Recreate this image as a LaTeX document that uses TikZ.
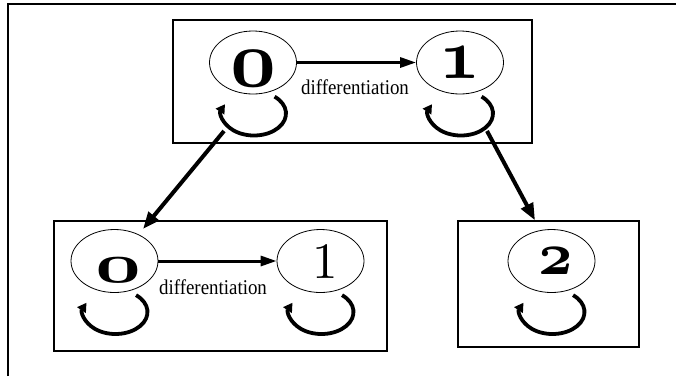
\documentclass[tikz,border=0pt]{standalone}
\usepackage{fontspec}
\newfontfamily\labelfont{Liberation Serif}
\usetikzlibrary{arrows.meta,shapes.geometric}
% digit placed with its ink centre shifted by (#1/2 right, #2 down)
\newcommand{\dg}[3]{\makebox[0pt]{\hspace*{#1}\raisebox{\dimexpr -#2 - .5\height\relax}[0pt][0pt]{#3}}}
\newcommand{\osf}[3]{\scalebox{#1}[#2]{\fontsize{10}{10}\usefont{OML}{cmm}{b}{it}#3}}
\tikzset{
  state/.style={ellipse, draw, line width=0.8pt, inner sep=0pt, minimum width=87pt, minimum height=63pt},
  cluster/.style={draw, line width=1.3pt, inner sep=0pt},
  trans/.style={line width=3pt, -{Triangle[length=16pt,width=10pt]}},
  jump/.style={line width=4pt, -{Triangle[length=17pt,width=13pt]}},
  selfloop/.style={line width=3.8pt, -{Triangle[length=9pt,width=10pt]}},
  lbl/.style={font=\labelfont\fontsize{21}{21}\selectfont, inner sep=0pt},
  frame/.style={line width=2pt, line join=miter}
}
\begin{document}
\begin{tikzpicture}[x=1pt, y=-1pt]
\useasboundingbox (0,0) rectangle (676,376);
\draw[frame] (8.3,376) -- (8.3,4.3) -- (676,4.3);
% clusters
\node[cluster, minimum width=359pt, minimum height=123pt] (topbox) at (352.5,81.5) {};
\node[cluster, minimum width=333pt, minimum height=130pt] (leftbox) at (220.5,286) {};
\node[cluster, minimum width=181pt, minimum height=126pt] (rightbox) at (548.5,284) {};
% states
\node[state] (a0) at (253,62.5) {\dg{0pt}{6pt}{\osf{8}{8}{0}}};
\node[state] (a1) at (460,62.5) {\dg{0pt}{0pt}{\osf{7.1}{7.1}{1}}};
\node[state] (b0) at (114.5,261) {\dg{7pt}{9.5pt}{\osf{8}{5.5}{0}}};
\node[state] (b1) at (320.5,261) {\dg{9pt}{0.5pt}{\scalebox{5.1}{\fontsize{10}{10}\selectfont 1}}};
\node[state] (c2) at (551.5,261) {\dg{8pt}{0.5pt}{\osf{6}{6}{2}}};
% transitions
\draw[trans] (a0.east) -- (a1.west) node[lbl, midway, xshift=-1.5pt, yshift=-25pt] {\scalebox{0.9}[1]{differentiation}};
\draw[trans] (b0.east) -- (b1.west) node[lbl, midway, xshift=-4.5pt, yshift=-26.5pt] {\scalebox{0.9}[1]{differentiation}};
% self loops
\foreach \n in {a0,a1,b0,b1,c2}{
  \draw[selfloop] ([shift={(1,51)}]\n.center) ++(-50:32 and 22) arc[start angle=-50, end angle=205, x radius=32, y radius=22];
}
% jumps between clusters
\coordinate (s0) at ([shift={(-29,68.5)}]a0.center);
\coordinate (e0) at ([shift={(28.5,-32)}]b0.center);
\coordinate (s1) at ([shift={(27,68.5)}]a1.center);
\coordinate (e1) at ([xshift=-13.5pt]rightbox.north);
\draw[jump] (s0) -- (e0);
\draw[jump] (s1) -- (e1);
\end{tikzpicture}
\end{document}
